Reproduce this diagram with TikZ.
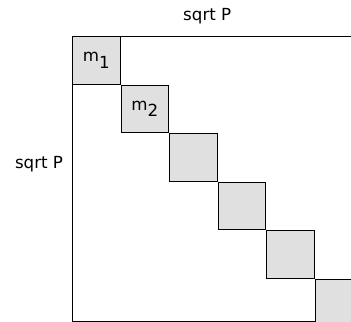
\documentclass[tikz,border=0pt]{standalone}
\usepackage{fontspec}
\setmainfont{DejaVu Sans}
\usetikzlibrary{positioning}
\definecolor{cellgray}{RGB}{224,224,224}
\begin{document}
\begin{tikzpicture}[
x=0.75pt, y=-0.75pt,
every node/.style={font=\fontsize{12.5}{15}\selectfont},
whole/.style={draw, rectangle, minimum size=214.1pt, inner sep=0pt, line width=0.75pt},
cell/.style={draw, rectangle, fill=cellgray, minimum size=35.7pt, inner sep=0pt, line width=0.75pt}
]
\clip (0,0) rectangle (351,322);

\node (outer) [whole, anchor=north west] at (72,36) {};

\node (m1) [cell, anchor=north west] at (outer.north west) {m\raisebox{-0.7ex}{1}};

\node (m2) [cell, below right=0pt of m1] {m\raisebox{-0.7ex}{2}};

\node (m3) [cell, below right=0pt of m2] {};

\node (m4) [cell, below right=0pt of m3] {};

\node (m5) [cell, below right=0pt of m4] {};

\node (m6) [cell, below right=0pt of m5] {};

\node (toplabel) at ([xshift=-6pt, yshift=15pt]outer.north) {sqrt P};

\node (leftlabel) at ([xshift=-24.75pt, yshift=11pt]outer.west) {sqrt P};

\end{tikzpicture}
\end{document}
